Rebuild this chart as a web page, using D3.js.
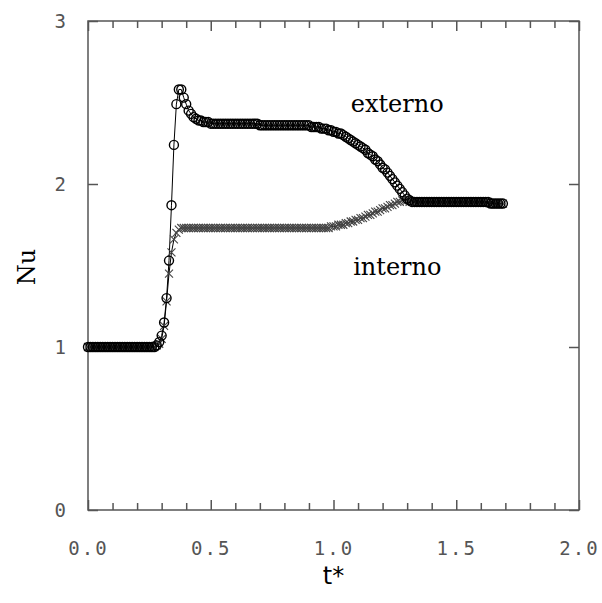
<!DOCTYPE html>
<html><head><meta charset="utf-8">
<script src="https://cdn.jsdelivr.net/npm/d3@7"></script>
<style>body{margin:0;background:#fff}</style>
</head><body>
<script>
// sampling step of the simulation output (t* = index * step)
const tStep = 0.01;
const externo = [
 1.00,1.00,1.00,1.00,1.00,1.00,1.00,1.00,1.00,1.00,
 1.00,1.00,1.00,1.00,1.00,1.00,1.00,1.00,1.00,1.00,
 1.00,1.00,1.00,1.00,1.00,1.00,1.00,1.00,1.01,1.03,
 1.07,1.15,1.30,1.53,1.87,2.24,2.49,2.58,2.58,2.53,
 2.49,2.45,2.43,2.41,2.40,2.39,2.39,2.38,2.38,2.38,
 2.37,2.37,2.37,2.37,2.37,2.37,2.37,2.37,2.37,2.37,
 2.37,2.37,2.37,2.37,2.37,2.37,2.37,2.37,2.37,2.37,
 2.36,2.36,2.36,2.36,2.36,2.36,2.36,2.36,2.36,2.36,
 2.36,2.36,2.36,2.36,2.36,2.36,2.36,2.36,2.36,2.36,
 2.36,2.35,2.35,2.35,2.35,2.34,2.34,2.34,2.33,2.33,
 2.32,2.32,2.31,2.31,2.30,2.29,2.28,2.27,2.26,2.25,
 2.24,2.23,2.22,2.21,2.19,2.18,2.17,2.15,2.14,2.12,
 2.10,2.09,2.07,2.05,2.03,2.01,1.99,1.97,1.95,1.93,
 1.91,1.90,1.89,1.89,1.89,1.89,1.89,1.89,1.89,1.89,
 1.89,1.89,1.89,1.89,1.89,1.89,1.89,1.89,1.89,1.89,
 1.89,1.89,1.89,1.89,1.89,1.89,1.89,1.89,1.89,1.89,
 1.89,1.89,1.89,1.89,1.88,1.88,1.88,1.88,1.88,1.88
];
const interno = [
 1.00,1.00,1.00,1.00,1.00,1.00,1.00,1.00,1.00,1.00,
 1.00,1.00,1.00,1.00,1.00,1.00,1.00,1.00,1.00,1.00,
 1.00,1.00,1.00,1.00,1.00,1.00,1.00,1.00,1.01,1.02,
 1.05,1.13,1.28,1.45,1.58,1.66,1.70,1.72,1.73,1.73,
 1.73,1.73,1.73,1.73,1.73,1.73,1.73,1.73,1.73,1.73,
 1.73,1.73,1.73,1.73,1.73,1.73,1.73,1.73,1.73,1.73,
 1.73,1.73,1.73,1.73,1.73,1.73,1.73,1.73,1.73,1.73,
 1.73,1.73,1.73,1.73,1.73,1.73,1.73,1.73,1.73,1.73,
 1.73,1.73,1.73,1.73,1.73,1.73,1.73,1.73,1.73,1.73,
 1.73,1.73,1.73,1.73,1.73,1.73,1.73,1.73,1.73,1.74,
 1.74,1.74,1.75,1.75,1.75,1.76,1.76,1.77,1.77,1.78,
 1.78,1.79,1.79,1.80,1.81,1.81,1.82,1.83,1.83,1.84,
 1.85,1.85,1.86,1.87,1.87,1.88,1.89,1.89,1.90,1.90,
 1.90,1.89,1.89,1.89,1.89,1.89,1.89,1.89,1.89,1.89,
 1.89,1.89,1.89,1.89,1.89,1.89,1.89,1.89,1.89,1.89,
 1.89,1.89,1.89,1.89,1.89,1.89,1.89,1.89,1.89,1.89,
 1.89,1.89,1.89,1.89,1.88,1.88,1.88,1.88,1.88,1.88
];
const xMajorTicks = [0.0, 0.5, 1.0, 1.5, 2.0];
const xMinorTicks = [0.1,0.2,0.3,0.4,0.6,0.7,0.8,0.9,1.1,1.2,1.3,1.4,1.6,1.7,1.8,1.9];
const yTicks = [0, 1, 2, 3];
const seriesLabels = ["externo", "interno"];
const labelPos = [[1.07, 2.44], [1.08, 1.44]]; // data coords of annotations

const W = 602, H = 603;
const m = {left: 88, right: 23, top: 21, bottom: 93};
const svg = d3.select("body").append("svg").attr("width", W).attr("height", H);
svg.append("rect").attr("width", W).attr("height", H).attr("fill", "#fff");

const x = d3.scaleLinear().domain([0, 2]).range([m.left, W - m.right]);
const y = d3.scaleLinear().domain([0, 3]).range([H - m.bottom, m.top]);

const axisCol = "#555";
function styleAxis(g) {
  g.select(".domain").remove();
  g.selectAll("line").attr("stroke", axisCol).attr("stroke-width", 1.5);
  g.selectAll("text").attr("fill", "#555").attr("font-family", "'DejaVu Sans Mono', monospace")
    .attr("font-size", 19).attr("letter-spacing", 2);
}
const bottomY = y(0), topY = y(3), leftX = x(0), rightX = x(2);

svg.append("g").attr("transform", `translate(0,${bottomY})`)
  .call(d3.axisBottom(x).tickValues(xMinorTicks).tickSize(-7).tickFormat("")).call(styleAxis);
svg.append("g").attr("transform", `translate(0,${bottomY})`)
  .call(d3.axisBottom(x).tickValues(xMajorTicks).tickSize(-10).tickPadding(32).tickFormat(d3.format(".1f"))).call(styleAxis);
svg.append("g").attr("transform", `translate(0,${topY})`)
  .call(d3.axisTop(x).tickValues(xMinorTicks).tickSize(-7).tickFormat("")).call(styleAxis);
svg.append("g").attr("transform", `translate(0,${topY})`)
  .call(d3.axisTop(x).tickValues(xMajorTicks).tickSize(-10).tickFormat("")).call(styleAxis);
svg.append("g").attr("transform", `translate(${leftX},0)`)
  .call(d3.axisLeft(y).tickValues(yTicks).tickSize(-10).tickPadding(20).tickFormat(d3.format("d"))).call(styleAxis);
svg.append("g").attr("transform", `translate(${rightX},0)`)
  .call(d3.axisRight(y).tickValues(yTicks).tickSize(-10).tickFormat("")).call(styleAxis);

svg.append("rect").attr("x", leftX).attr("y", topY).attr("width", rightX - leftX).attr("height", bottomY - topY)
  .attr("fill", "none").attr("stroke", axisCol).attr("stroke-width", 1.5);

const line = d3.line().x((d, i) => x(i * tStep)).y(d => y(d));
svg.append("path").datum(interno).attr("d", line).attr("fill", "none").attr("stroke", "#000").attr("stroke-width", 1);
svg.append("path").datum(externo).attr("d", line).attr("fill", "none").attr("stroke", "#000").attr("stroke-width", 1);

// interno: x markers
const xs = 4;
const gX = svg.append("g").attr("stroke", "#444").attr("stroke-width", 1.1);
gX.selectAll("path").data(interno).join("path")
  .attr("d", (d, i) => {
    const cx = x(i * tStep), cy = y(d);
    return `M${cx - xs},${cy - xs}L${cx + xs},${cy + xs}M${cx - xs},${cy + xs}L${cx + xs},${cy - xs}`;
  });
// externo: open circles
svg.append("g").selectAll("circle").data(externo).join("circle")
  .attr("cx", (d, i) => x(i * tStep)).attr("cy", d => y(d)).attr("r", 4.5)
  .attr("fill", "none").attr("stroke", "#000").attr("stroke-width", 1.4);

svg.selectAll("text.lbl").data(seriesLabels).join("text").attr("class", "lbl")
  .attr("x", (d, i) => x(labelPos[i][0])).attr("y", (d, i) => y(labelPos[i][1]))
  .attr("font-family", "'DejaVu Serif', serif").attr("font-size", 24).attr("fill", "#000")
  .text(d => d);

svg.append("text").attr("transform", `translate(35,267) rotate(-90)`)
  .attr("text-anchor", "middle").attr("font-family", "'DejaVu Serif', serif").attr("font-size", 24)
  .text("Nu");
svg.append("text").attr("x", (leftX + rightX) / 2).attr("y", 584).attr("text-anchor", "middle")
  .attr("font-family", "'DejaVu Sans', sans-serif").attr("font-size", 24).attr("fill", "#000")
  .text("t*");
</script>
</body></html>
